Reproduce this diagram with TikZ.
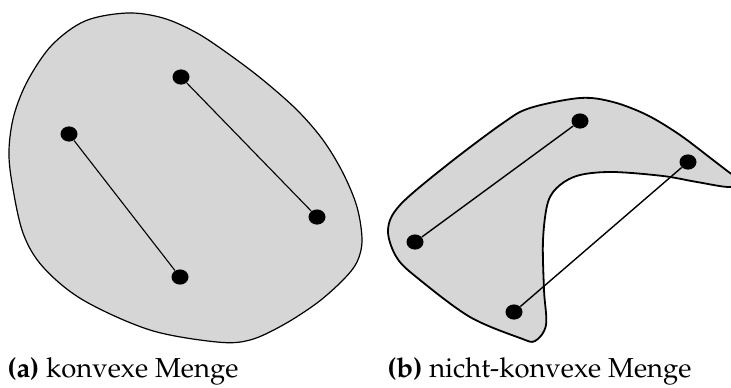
\documentclass[tikz,border=0pt]{standalone}
\usepackage[T1]{fontenc}
\usepackage{mathpazo}
\usepackage{tikz}
\usetikzlibrary{shapes.geometric}
\definecolor{SetGray}{HTML}{D6D6D6}

\begin{document}
\begin{tikzpicture}[x=0.5pt,y=-0.5pt,
 dot/.style={ellipse,fill=black,inner sep=0pt,minimum width=8.5pt,minimum height=7.6pt},
 setarea/.style={draw=black,fill=SetGray},
 caption/.style={anchor=base west,inner sep=0pt,font=\fontsize{13.7}{16}\selectfont}]
\clip (0,0) rectangle (731,387);
% convex set
\draw[setarea,line width=0.6pt] plot[smooth cycle,tension=0.55] coordinates {
 (127,13) (163,18) (197,33) (230,55) (263,80) (297,110) (323,140) (343,173)
 (357,207) (362,240) (357,262) (343,280) (317,303) (283,325) (250,340) (217,342)
 (150,330) (83,300) (43,267) (23,233) (12,183) (9,150) (14,115) (28,80) (52,45) (85,21)};
\node[dot] (a1) at (69,134) {};
\node[dot] (a2) at (180,277) {};
\node[dot] (a3) at (181,77) {};
\node[dot] (a4) at (317,217) {};
\draw[line width=0.55pt] (a1)--(a2); \draw[line width=0.55pt] (a3)--(a4);
% non-convex set
\draw[setarea,line width=0.9pt] plot[smooth cycle,tension=0.55] coordinates {
 (388,230) (400,205) (447,165) (503,123) (530,108) (580,98) (613,102) (647,115)
 (680,135) (713,160) (730,173) (740,180) (730,187) (697,182) (663,176) (613,172)
 (580,175) (560,185) (548,202) (543,240) (544,290) (546,325) (535,341) (520,338)
 (470,317) (420,280) (397,258)};
\node[dot] (b1) at (415,242) {};
\node[dot] (b2) at (580,121) {};
\node[dot] (b3) at (514,312) {};
\node[dot] (b4) at (688,162) {};
\draw[line width=0.7pt] (b1)--(b2); \draw[line width=0.7pt] (b3)--(b4);
% captions
\node[caption] (capa) at (7,377) {\textbf{(a)} konvexe Menge};
\node[caption] (capb) at (387,377) {\textbf{(b)} nicht-konvexe Menge};
\end{tikzpicture}
\end{document}
